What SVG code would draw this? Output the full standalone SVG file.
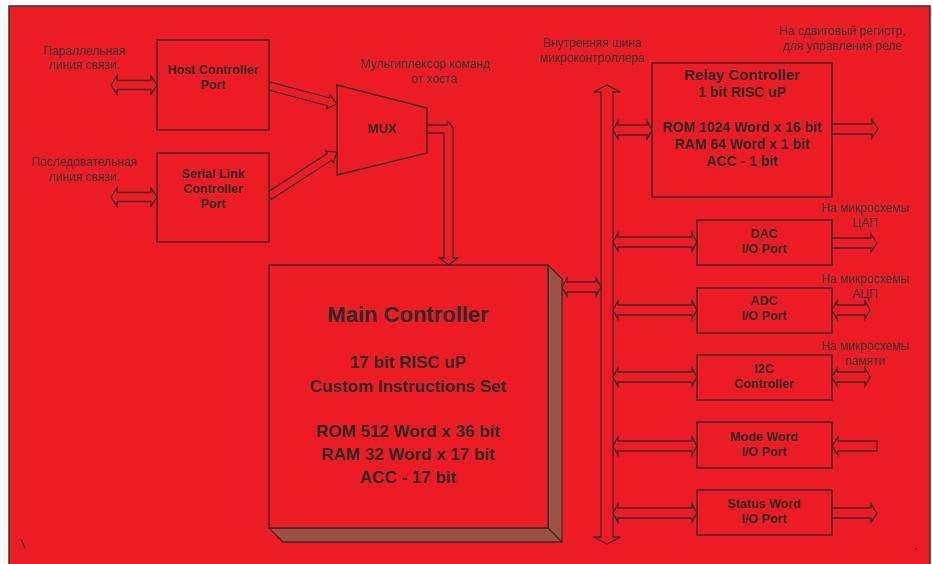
<svg xmlns="http://www.w3.org/2000/svg" width="932" height="564" viewBox="0 0 932 564">
<style>
.box{fill:#ED1C24;stroke:#3d2a2a;stroke-width:1.5}
.arr{fill:#ED1C24;stroke:#3d2a2a;stroke-width:1.3;stroke-linejoin:miter}
.lbl{font-family:"Liberation Sans",Arial,sans-serif;font-size:12px;fill:#3a3434;text-anchor:middle}
.b{font-family:"Liberation Sans",Arial,sans-serif;font-weight:bold;fill:#2e2828;text-anchor:middle}
</style>
<rect x="0" y="0" width="932" height="564" fill="#ffffff"/>
<rect x="9" y="6" width="921" height="560" fill="#ED1C24" stroke="#3d2a2a" stroke-width="1.5"/>
<path d="M21,539 L25,548" stroke="#3d2a2a" stroke-width="1.2"/>
<rect x="915" y="548" width="1.5" height="1.5" fill="#3d2a2a"/>

<g id="connectors">
  <path class="arr" d="M111,85 L117,76 L117,80.5 L151,80.5 L151,76 L157,85 L151,94 L151,89.5 L117,89.5 L117,94 Z"/>
  <path class="arr" d="M111,197 L117,188 L117,192.5 L151,192.5 L151,188 L157,197 L151,206 L151,201.5 L117,201.5 L117,206 Z"/>
  <path class="arr" d="M270,82.1 L329.3,97.8 L330.1,94.9 L337,104 L326.5,108.5 L327.3,105.6 L268,89.9 Z"/>
  <path class="arr" d="M266.8,192.6 L327.3,153.5 L325.6,151 L337,152 L333.2,162.8 L331.6,160.3 L271.2,199.4 Z"/>
  <path class="arr" d="M427,125 L447,125 L448,121.5 L453,128 L453,258 L457.5,258 L448.5,265 L439.5,258 L444,258 L444,133 L427,133"/>
  <path class="arr" d="M607,85 L620.5,92 L613,92 L613,537 L620.5,537 L607,544 L593.5,537 L601,537 L601,92 L593.5,92 Z"/>
  <path class="arr" d="M562,287 L567,278 L567,282 L596,282 L596,278 L601,287 L596,296 L596,292 L567,292 L567,296 Z"/>
  <path class="arr" d="M613,130 L618,121 L618,125 L647,125 L647,121 L652,130 L647,139 L647,135 L618,135 L618,139 Z"/>
  <path class="arr" d="M832,124 L872,124 L872,120 L878,129 L872,138 L872,134 L832,134"/>
  <path class="arr" d="M613,242 L618,233 L618,237 L692,237 L692,233 L697,242 L692,251 L692,247 L618,247 L618,251 Z"/>
  <path class="arr" d="M832,238 L871,238 L871,234 L877,243 L871,252 L871,248 L832,248"/>
  <path class="arr" d="M613,310 L618,301 L618,305 L692,305 L692,301 L697,310 L692,319 L692,315 L618,315 L618,319 Z"/>
  <path class="arr" d="M832,310 L837,301 L837,305 L865,305 L865,301 L870,310 L865,319 L865,315 L837,315 L837,319 Z"/>
  <path class="arr" d="M613,377 L618,368 L618,372 L692,372 L692,368 L697,377 L692,386 L692,382 L618,382 L618,386 Z"/>
  <path class="arr" d="M832,377 L837,368 L837,372 L865,372 L865,368 L870,377 L865,386 L865,382 L837,382 L837,386 Z"/>
  <path class="arr" d="M613,446 L618,437 L618,441 L692,441 L692,437 L697,446 L692,455 L692,451 L618,451 L618,455 Z"/>
  <path class="arr" d="M877,441 L838,441 L838,437 L832,446 L838,455 L838,451 L877,451 Z"/>
  <path class="arr" d="M613,513 L618,504 L618,508 L692,508 L692,504 L697,513 L692,522 L692,518 L618,518 L618,522 Z"/>
  <path class="arr" d="M832,508 L871,508 L871,504 L877,513 L871,522 L871,518 L832,518"/>
</g>

<g id="labels">
  <text class="lbl" x="84" y="55">Параллельная</text>
  <text class="lbl" x="84" y="69">линия связи.</text>
  <text class="lbl" x="84" y="166">Последовательная</text>
  <text class="lbl" x="84" y="181">линия связи.</text>
  <text class="lbl" x="425" y="68">Мультиплексор команд</text>
  <text class="lbl" x="434" y="83">от хоста</text>
  <text class="lbl" x="592" y="47">Внутренняя шина</text>
  <text class="lbl" x="592" y="62">микроконтроллера</text>
  <text class="lbl" x="842" y="35">На сдвиговый регистр,</text>
  <text class="lbl" x="842" y="50">для управления реле</text>
  <text class="lbl" x="865" y="212">На микросхемы</text>
  <text class="lbl" x="865" y="227">ЦАП</text>
  <text class="lbl" x="865" y="283">На микросхемы</text>
  <text class="lbl" x="865" y="298">АЦП</text>
  <text class="lbl" x="865" y="350">На микросхемы</text>
  <text class="lbl" x="865" y="365">памяти</text>
</g>

<g id="host-port">
  <rect class="box" x="157" y="40" width="112" height="90"/>
  <text class="b" font-size="12.5" x="213" y="74">Host Controller</text>
  <text class="b" font-size="12.5" x="213" y="89">Port</text>
</g>
<g id="serial-port">
  <rect class="box" x="157" y="153" width="112" height="89"/>
  <text class="b" font-size="12.5" x="213" y="178">Serial Link</text>
  <text class="b" font-size="12.5" x="213" y="193">Controller</text>
  <text class="b" font-size="12.5" x="213" y="208">Port</text>
</g>
<g id="mux">
  <path class="box" d="M337,85 L427,108 L427,153 L337,175 Z"/>
  <text class="b" font-size="13" x="382" y="133">MUX</text>
</g>
<g id="main-controller">
  <path d="M548,265 L562,279 L562,542 L283,542 L269,528 L548,528 Z" fill="#9A5242" stroke="#3d2a2a" stroke-width="1.3"/>
  <path d="M548,528 L562,542" stroke="#3d2a2a" stroke-width="1.3"/>
  <rect class="box" x="269" y="265" width="279" height="263"/>
  <text class="b" font-size="22" x="408" y="322">Main Controller</text>
  <text class="b" font-size="17" x="408" y="368">17 bit RISC uP</text>
  <text class="b" font-size="17" x="408" y="392">Custom Instructions Set</text>
  <text class="b" font-size="17" x="408" y="437">ROM 512 Word x 36 bit</text>
  <text class="b" font-size="17" x="408" y="460">RAM 32 Word x 17 bit</text>
  <text class="b" font-size="17" x="408" y="483">ACC - 17 bit</text>
</g>
<g id="relay-controller">
  <rect class="box" x="652" y="63" width="180" height="134"/>
  <text class="b" font-size="15" x="742" y="80">Relay Controller</text>
  <text class="b" font-size="14" x="742" y="97">1 bit RISC uP</text>
  <text class="b" font-size="14" x="742" y="132">ROM 1024 Word x 16 bit</text>
  <text class="b" font-size="14" x="742" y="149">RAM 64 Word x 1 bit</text>
  <text class="b" font-size="14" x="742" y="166">ACC - 1 bit</text>
</g>
<g id="dac-port">
  <rect class="box" x="697" y="220" width="135" height="45"/>
  <text class="b" font-size="12.5" x="764" y="238">DAC</text>
  <text class="b" font-size="12.5" x="764" y="253">I/O Port</text>
</g>
<g id="adc-port">
  <rect class="box" x="697" y="288" width="135" height="45"/>
  <text class="b" font-size="12.5" x="764" y="305">ADC</text>
  <text class="b" font-size="12.5" x="764" y="320">I/O Port</text>
</g>
<g id="i2c-controller">
  <rect class="box" x="697" y="355" width="135" height="45"/>
  <text class="b" font-size="12.5" x="764" y="373">I2C</text>
  <text class="b" font-size="12.5" x="764" y="388">Controller</text>
</g>
<g id="mode-word-port">
  <rect class="box" x="697" y="422" width="135" height="46"/>
  <text class="b" font-size="12.5" x="764" y="441">Mode Word</text>
  <text class="b" font-size="12.5" x="764" y="456">I/O Port</text>
</g>
<g id="status-word-port">
  <rect class="box" x="697" y="490" width="135" height="45"/>
  <text class="b" font-size="12.5" x="764" y="508">Status Word</text>
  <text class="b" font-size="12.5" x="764" y="523">I/O Port</text>
</g>
</svg>
